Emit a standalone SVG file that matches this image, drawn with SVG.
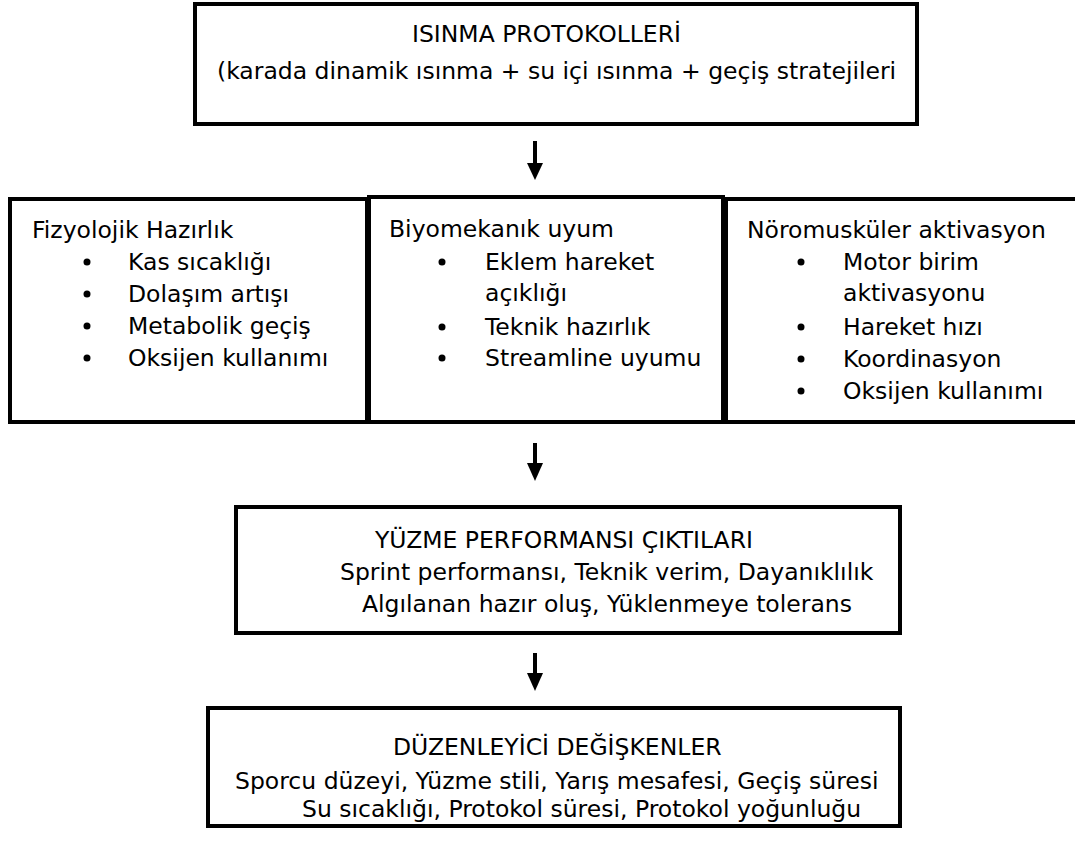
<svg xmlns="http://www.w3.org/2000/svg" width="1075" height="844" viewBox="0 0 1075 844">
<style>
.box{fill:#fff;stroke:#000;stroke-width:4}
text{font-family:"DejaVu Sans","Liberation Sans",sans-serif;font-size:23.5px;fill:#000}
.arr{stroke:#000;stroke-width:4;fill:none}
</style>
<rect width="1075" height="844" fill="#fff"/>
<g id="connectors">
<path d="M535,141 V163" class="arr"/><path d="M527,163 L543,163 L535,180 Z"/>
<path d="M535,443 V463" class="arr"/><path d="M527,463 L543,463 L535,481 Z"/>
<path d="M535,653 V673" class="arr"/><path d="M527,673 L543,673 L535,691 Z"/>
</g>
<g id="n-protokol">
<rect class="box" x="195" y="4" width="722" height="120"/>
<text x="412" y="42">ISINMA PROTOKOLLERİ</text>
<text x="217" y="79">(karada dinamik ısınma + su içi ısınma + geçiş stratejileri</text>
</g>
<g id="n-fizyolojik">
<rect class="box" x="10" y="199" width="357" height="223"/>
<text x="32" y="238">Fizyolojik Hazırlık</text>
<g><circle cx="87" cy="262" r="3.5"/><text x="128" y="270">Kas sıcaklığı</text></g>
<g><circle cx="87" cy="294" r="3.5"/><text x="128" y="302">Dolaşım artışı</text></g>
<g><circle cx="87" cy="326" r="3.5"/><text x="128" y="334">Metabolik geçiş</text></g>
<g><circle cx="87" cy="358" r="3.5"/><text x="128" y="366">Oksijen kullanımı</text></g>
</g>
<g id="n-biyomekanik">
<rect class="box" x="369" y="197" width="354" height="225"/>
<text x="389" y="237">Biyomekanık uyum</text>
<g><circle cx="442" cy="262" r="3.5"/><text x="485" y="270">Eklem hareket</text></g>
<text x="485" y="301">açıklığı</text>
<g><circle cx="442" cy="327" r="3.5"/><text x="485" y="335">Teknik hazırlık</text></g>
<g><circle cx="442" cy="358" r="3.5"/><text x="485" y="366">Streamline uyumu</text></g>
</g>
<g id="n-noromuskuler">
<rect class="box" x="726" y="199" width="360" height="223"/>
<text x="747" y="238">Nöromusküler aktivasyon</text>
<g><circle cx="801" cy="262" r="3.5"/><text x="843" y="270">Motor birim</text></g>
<text x="843" y="301">aktivasyonu</text>
<g><circle cx="801" cy="327" r="3.5"/><text x="843" y="335">Hareket hızı</text></g>
<g><circle cx="801" cy="359" r="3.5"/><text x="843" y="367">Koordinasyon</text></g>
<g><circle cx="801" cy="391" r="3.5"/><text x="843" y="399">Oksijen kullanımı</text></g>
</g>
<g id="n-performans">
<rect class="box" x="236" y="507" width="664" height="126"/>
<text x="375" y="548">YÜZME PERFORMANSI ÇIKTILARI</text>
<text x="340" y="580">Sprint performansı, Teknik verim, Dayanıklılık</text>
<text x="362" y="612">Algılanan hazır oluş, Yüklenmeye tolerans</text>
</g>
<g id="n-duzenleyici">
<rect class="box" x="208" y="708" width="692" height="118"/>
<text x="393" y="755">DÜZENLEYİCİ DEĞİŞKENLER</text>
<text x="235" y="789">Sporcu düzeyi, Yüzme stili, Yarış mesafesi, Geçiş süresi</text>
<text x="302" y="817">Su sıcaklığı, Protokol süresi, Protokol yoğunluğu</text>
</g>
</svg>
